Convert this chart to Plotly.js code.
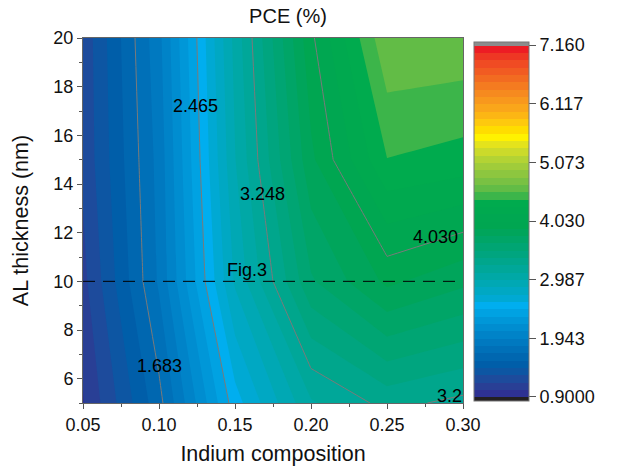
<!DOCTYPE html>
<html>
<head>
<meta charset="utf-8">
<script src="https://cdn.plot.ly/plotly-3.0.1.min.js"></script>
<style>html,body{margin:0;padding:0;background:#fff;}#chart{width:619px;height:469px;}</style>
</head>
<body>
<div id="chart"></div>
<script>
// ---- data ----
const indiumComposition = [0.05, 0.10, 0.15, 0.20, 0.25, 0.30];
const alThickness = [5, 10, 15, 20];
const pceAt5nm  = [1.02, 1.636, 2.537, 3.10, 3.29, 3.21];
const pceAt10nm = [1.12, 1.833, 2.876, 3.62, 3.93, 3.80];
const pceAt15nm = [1.19, 1.86, 2.98, 3.87, 4.418, 4.37];
const pceAt20nm = [1.20, 1.905, 3.03, 4.00, 4.66, 4.648];
const colorbarTicks = [0.9, 1.943, 2.987, 4.030, 5.073, 6.117, 7.160];
const colorbarTickText = ['0.9000', '1.943', '2.987', '4.030', '5.073', '6.117', '7.160'];
const xTicks = [0.05, 0.10, 0.15, 0.20, 0.25, 0.30];

const zMin = 0.9, zMax = 7.16, nLevels = 48;
const step = (zMax - zMin) / nLevels;
const lineStep = step * 6;
const levelText = k => (zMin + k * lineStep + 1e-9).toFixed(3);

const bandColors = [
  '#231f20',
  '#2e3192','#293f95','#1d4b9c','#0d56a3','#005ea9','#0067b0','#0070b8','#0079c0',
  '#0083c8','#008dd0','#0097d8','#00a2e2','#00aeef','#00a9d3','#00a8c3','#00a8b4',
  '#00a8a6','#00a799','#00a68c','#00a57f','#00a573','#00a567','#00a55b','#00a651',
  '#00a751','#00a94f','#00ab4e','#3cb54a','#62bc46','#79c143','#8dc63f','#a0cc3a',
  '#b3d334','#cbda2b','#e4e31c','#fff200','#ffdd00','#fec90e','#fcb614','#faa61a',
  '#f8981d','#f68a1f','#f47b20','#f26b21','#f15b22','#f04b23','#ee3724','#ed1c24',
  '#8c8c8c'
];
const colorscale = bandColors.map((c, j) => [j / (bandColors.length - 1), c]);

const font = 'Arial, "Liberation Sans", sans-serif';

const z = [pceAt5nm, pceAt10nm, pceAt15nm, pceAt20nm];

const fill = {
  type: 'contour',
  x: indiumComposition, y: alThickness, z: z,
  autocontour: false,
  contours: {start: zMin, end: zMax, size: step, coloring: 'fill', showlines: false},
  line: {width: 0, smoothing: 0},
  colorscale: colorscale,
  hoverinfo: 'skip',
  colorbar: {
    x: (474 - 83) / 380, xanchor: 'left', xpad: 0,
    y: (403 - 221) / 365, yanchor: 'middle', ypad: 0,
    lenmode: 'pixels', len: 359,
    thicknessmode: 'pixels', thickness: 55,
    outlinewidth: 1, outlinecolor: '#777',
    tickmode: 'array', tickvals: colorbarTicks, ticktext: colorbarTickText,
    ticks: 'outside', ticklen: 7, tickcolor: '#555', tickwidth: 1,
    tickfont: {family: font, size: 18, color: '#111'}
  }
};

const lines = {
  type: 'contour',
  x: indiumComposition, y: alThickness, z: z,
  autocontour: false,
  contours: {start: zMin + lineStep + 1e-6, end: zMax, size: lineStep, coloring: 'none', showlabels: false},
  line: {width: 1, color: '#7a7a7a', smoothing: 0},
  showscale: false,
  hoverinfo: 'skip'
};

const labelFont = {family: font, size: 18, color: '#000'};
const lbl = (text, x, y, xanchor) => ({text: text, xref: 'x', yref: 'y', x: x, y: y,
  xanchor: xanchor || 'center', yanchor: 'middle', showarrow: false, font: labelFont});

const layout = {
  width: 619, height: 469,
  margin: {l: 83, r: 156, t: 38, b: 66, pad: 0},
  paper_bgcolor: '#fff', plot_bgcolor: '#fff',
  showlegend: false,
  font: {family: font, size: 18, color: '#111'},
  title: {text: 'PCE (%)', font: {family: font, size: 20, color: '#111'},
          xref: 'paper', x: (288 - 83) / 380, xanchor: 'center',
          yref: 'container', y: 1 - 16 / 469, yanchor: 'middle'},
  xaxis: {
    range: [0.05, 0.30], tickmode: 'array', tickvals: xTicks, tickformat: '.2f',
    ticks: 'outside', ticklen: 5, tickcolor: '#555', tickwidth: 1,
    minor: {dtick: 0.025, tick0: 0.05, ticks: 'outside', ticklen: 3, tickcolor: '#555'},
    showline: true, linecolor: '#666', linewidth: 1, mirror: true,
    showgrid: false, zeroline: false,
    tickfont: {family: font, size: 18, color: '#111'},
    title: {text: 'Indium composition', font: {family: font, size: 21.5, color: '#111'}, standoff: 12}
  },
  yaxis: {
    range: [5, 20], tick0: 0, dtick: 2,
    ticks: 'outside', ticklen: 5, tickcolor: '#555', tickwidth: 1,
    minor: {dtick: 1, tick0: 1, ticks: 'outside', ticklen: 3, tickcolor: '#555'},
    showline: true, linecolor: '#666', linewidth: 1, mirror: true,
    showgrid: false, zeroline: false,
    tickfont: {family: font, size: 18, color: '#111'},
    title: {text: 'AL thickness (nm)', font: {family: font, size: 21.5, color: '#111'}, standoff: 18}
  },
  shapes: [{type: 'line', xref: 'paper', yref: 'y', x0: 0, x1: 1, y0: 10, y1: 10,
            line: {color: '#000', width: 1, dash: '12px,8px'}}],
  annotations: [
    {text: 'Fig.3', xref: 'x', yref: 'y', x: 0.158, y: 10.45,
     showarrow: false, font: labelFont},
    lbl(levelText(1), 0.100, 6.51),
    lbl(levelText(2), 0.1243, 17.21),
    lbl(levelText(3), 0.1684, 13.6),
    lbl(levelText(4), 0.2816, 11.84),
    lbl(levelText(3).slice(0, 3), 0.2816, 5.30, 'left')
  ]
};

Plotly.newPlot('chart', [fill, lines], layout, {displayModeBar: false, staticPlot: true});
</script>
</body>
</html>
